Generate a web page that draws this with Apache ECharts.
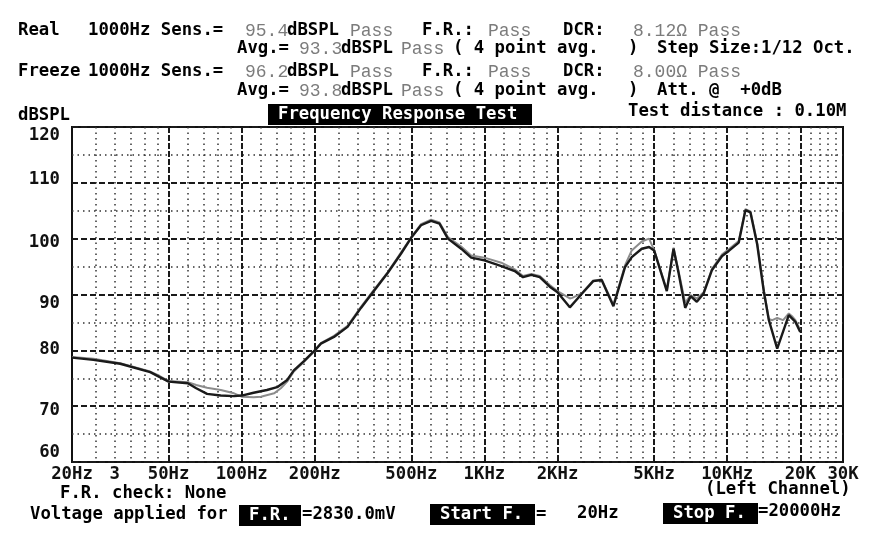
<!DOCTYPE html>
<html>
<head>
<meta charset="utf-8">
<script src="https://cdn.jsdelivr.net/npm/echarts@6/dist/echarts.min.js"></script>
<style>
html,body{margin:0;padding:0;background:#fff;}
#c{width:880px;height:550px;}
</style>
</head>
<body>
<div id="c"></div>
<script>
// ---- data ----
const freqTicks = [20, 30, 50, 100, 200, 500, 1000, 2000, 5000, 10000, 20000, 30000];
const freqTickLabels = ['20Hz', '3', '50Hz', '100Hz', '200Hz', '500Hz', '1KHz', '2KHz', '5KHz', '10KHz', '20K', '30K'];
const majorFreqLines = [50, 100, 200, 500, 1000, 2000, 5000, 10000, 20000];
const minorFreqLines = [25, 30, 35, 40, 45, 60, 70, 80, 90, 120, 140, 160, 180, 250, 300, 350, 400, 450,
  600, 700, 800, 900, 1200, 1400, 1600, 1800, 2500, 3000, 3500, 4000, 4500, 6000, 7000, 8000, 9000,
  12000, 14000, 16000, 18000, 22000, 24000, 26000, 28000];

const realFreq = [20, 24.5, 31.6, 42, 46, 50, 60, 65, 72, 82, 93, 100, 112, 127, 140, 154, 164, 181, 200, 212, 240, 273, 310, 346, 400, 453, 500, 548, 603, 653, 707, 802, 882, 1000, 1174, 1333, 1442, 1562, 1690, 1859, 2000, 2248, 2514, 2807, 3040, 3399, 3794, 4044, 4447, 4766, 5000, 5640, 6013, 6303, 6715, 7066, 7500, 8000, 8660, 9530, 10150, 11160, 11890, 12470, 13290, 14160, 14850, 16070, 17940, 19100, 20000];
const realDb = [78.7, 78.3, 77.6, 76.1, 75.2, 74.4, 74.1, 73.2, 72.2, 71.9, 71.8, 71.9, 72.4, 72.9, 73.4, 74.7, 76.4, 78.1, 80.0, 81.2, 82.4, 84.2, 87.6, 90.3, 93.9, 97.3, 100.2, 102.4, 103.2, 102.7, 100.0, 98.2, 96.6, 96.1, 95.1, 94.2, 93.1, 93.5, 93.1, 91.4, 90.4, 87.7, 90.1, 92.4, 92.6, 87.9, 94.9, 96.7, 98.2, 98.5, 97.9, 90.6, 98.2, 93.9, 87.6, 89.7, 88.7, 90.2, 94.4, 96.9, 97.8, 99.3, 105.1, 104.7, 99.0, 90.5, 85.4, 80.3, 86.3, 85.1, 83.3];

const freezeFreq = [20, 24.5, 31.6, 42, 46, 50, 60, 65, 72, 82, 93, 100, 112, 120, 136, 145, 154, 164, 181, 200, 212, 240, 273, 310, 346, 400, 453, 500, 548, 603, 653, 707, 802, 882, 1000, 1174, 1333, 1442, 1562, 1690, 1859, 2000, 2248, 2300, 2514, 2807, 3040, 3399, 3794, 4044, 4447, 4766, 5000, 5640, 6013, 6303, 6715, 7066, 7500, 8000, 8660, 9530, 10150, 11160, 11890, 12470, 13290, 14160, 14850, 15340, 16070, 17000, 17940, 18600, 19100, 20000];
const freezeDb = [78.8, 78.5, 77.7, 76.2, 75.4, 74.5, 74.3, 73.8, 73.3, 72.9, 72.3, 71.7, 71.6, 71.7, 72.3, 73.2, 74.4, 76.2, 78.0, 79.9, 81.3, 82.6, 84.4, 87.8, 90.5, 94.0, 97.5, 100.3, 102.6, 103.4, 102.9, 100.3, 98.6, 97.0, 96.6, 95.7, 94.5, 93.3, 93.7, 93.3, 91.7, 90.6, 89.3, 89.4, 90.2, 92.5, 92.7, 88.2, 95.2, 97.9, 99.5, 100.0, 98.0, 90.8, 98.4, 94.2, 88.5, 89.9, 89.3, 90.4, 94.6, 97.2, 98.1, 99.6, 105.3, 104.9, 99.3, 90.8, 85.6, 85.4, 85.8, 85.4, 86.6, 86.0, 85.4, 83.6];

const dbMin = 60, dbMax = 120, dbStep = 10;
const freqMin = 20, freqMax = 30000;

// ---- styling (not data) ----
const BOLD = 'bold 17.3px "DejaVu Sans Mono"';
const THIN = '18px "Liberation Mono"';
const GRAY = '#7c7c7c';
// vertical nudges of the y tick labels (the original prints them on a text grid)
const yLabelNudge = { 120: 9, 110: -3, 100: 4, 90: 9, 80: -1, 70: 4, 60: -9 };

function pair(f, d) { return f.map((v, i) => [v, d[i]]); }
function labelFor(v) {
  for (let i = 0; i < freqTicks.length; i++) {
    if (Math.abs(Math.log10(v) - Math.log10(freqTicks[i])) < 0.005) return freqTickLabels[i];
  }
  return '';
}
const yRich = {};
Object.keys(yLabelNudge).forEach(function (k) {
  const o = yLabelNudge[k];
  yRich['n' + k] = {
    fontFamily: 'DejaVu Sans Mono', fontWeight: 'bold', fontSize: 17.3, color: '#111',
    padding: o >= 0 ? [2 * o, 0, 0, 0] : [0, 0, -2 * o, 0]
  };
});
function yLabel(v) {
  const k = Math.round(v);
  return yLabelNudge[k] !== undefined ? '{n' + k + '|' + k + '}' : String(k);
}

function t(text, x, y, font, fill) {
  return { type: 'text', x: x, y: y, silent: true, z: 100,
    style: { text: text, font: font, fill: fill, textVerticalAlign: 'middle' } };
}
function box(x, y, w, h, text, tx) {
  return [
    { type: 'rect', shape: { x: x, y: y, width: w, height: h }, style: { fill: '#000' }, z: 99, silent: true },
    t(text, tx, y + h / 2, BOLD, '#fff')
  ];
}

const graphics = [
  t('Real', 18, 31, BOLD, '#000'),
  t('1000Hz Sens.=', 88, 31, BOLD, '#000'),
  t('95.4', 245, 31, THIN, GRAY),
  t('dBSPL', 287, 31, BOLD, '#000'),
  t('Pass', 350, 31, THIN, GRAY),
  t('F.R.:', 422, 31, BOLD, '#000'),
  t('Pass', 488, 31, THIN, GRAY),
  t('DCR:', 563, 31, BOLD, '#000'),
  t('8.12Ω Pass', 633, 31, THIN, GRAY),

  t('Avg.=', 237, 49, BOLD, '#000'),
  t('93.3', 299, 49, THIN, GRAY),
  t('dBSPL', 341, 49, BOLD, '#000'),
  t('Pass', 401, 49, THIN, GRAY),
  t('( 4 point avg.', 453, 49, BOLD, '#000'),
  t(')', 628, 49, BOLD, '#000'),
  t('Step Size:1/12 Oct.', 657, 49, BOLD, '#000'),

  t('Freeze', 18, 72, BOLD, '#000'),
  t('1000Hz Sens.=', 88, 72, BOLD, '#000'),
  t('96.2', 245, 72, THIN, GRAY),
  t('dBSPL', 287, 72, BOLD, '#000'),
  t('Pass', 350, 72, THIN, GRAY),
  t('F.R.:', 422, 72, BOLD, '#000'),
  t('Pass', 488, 72, THIN, GRAY),
  t('DCR:', 563, 72, BOLD, '#000'),
  t('8.00Ω Pass', 633, 72, THIN, GRAY),

  t('Avg.=', 237, 91, BOLD, '#000'),
  t('93.8', 299, 91, THIN, GRAY),
  t('dBSPL', 341, 91, BOLD, '#000'),
  t('Pass', 401, 91, THIN, GRAY),
  t('( 4 point avg.', 453, 91, BOLD, '#000'),
  t(')', 628, 91, BOLD, '#000'),
  t('Att. @  +0dB', 657, 91, BOLD, '#000'),

  t('dBSPL', 18, 116, BOLD, '#000'),
  ...box(268, 104, 264, 21, 'Frequency Response Test', 278),
  t('Test distance : 0.10M', 628, 112, BOLD, '#000'),

  t('F.R. check: None', 60, 494, BOLD, '#000'),
  t('(Left Channel)', 705, 490, BOLD, '#000'),
  t('Voltage applied for', 30, 515, BOLD, '#000'),
  ...box(239, 505, 62, 21, 'F.R.', 249),
  t('=2830.0mV', 302, 515, BOLD, '#000'),
  ...box(430, 504, 105, 21, 'Start F.', 440),
  t('=', 536, 515, BOLD, '#000'),
  t('20Hz', 577, 514, BOLD, '#000'),
  ...box(663, 503, 95, 21, 'Stop F.', 673),
  t('=20000Hz', 758, 512, BOLD, '#000')
];

const chart = echarts.init(document.getElementById('c'), null, { renderer: 'canvas' });
chart.setOption({
  animation: false,
  backgroundColor: '#fff',
  grid: { left: 72, top: 127, width: 771, height: 335, show: true, borderColor: '#111', borderWidth: 2, backgroundColor: 'transparent' },
  xAxis: [
    {
      type: 'log', logBase: 10, min: freqMin, max: freqMax, gridIndex: 0,
      axisLine: { show: false },
      axisTick: { show: false, customValues: majorFreqLines },
      axisLabel: { show: true, customValues: freqTicks, formatter: labelFor, margin: 4,
        color: '#111', fontFamily: 'DejaVu Sans Mono', fontWeight: 'bold', fontSize: 17.3 },
      splitLine: { show: true, lineStyle: { color: '#1a1a1a', width: 2, type: [6, 2] } }
    },
    {
      type: 'log', logBase: 10, min: freqMin, max: freqMax, gridIndex: 0,
      axisLine: { show: false },
      axisTick: { show: false, customValues: minorFreqLines },
      axisLabel: { show: false },
      splitLine: { show: true, lineStyle: { color: '#333', width: 1.5, type: [1.5, 4] } }
    }
  ],
  yAxis: {
    type: 'value', min: dbMin, max: dbMax, interval: dbStep,
    axisLine: { show: false },
    axisTick: { show: false },
    minorTick: { show: false, splitNumber: 2 },
    minorSplitLine: { show: true, lineStyle: { color: '#333', width: 1.5, type: [1.5, 4] } },
    axisLabel: { margin: 12, color: '#111', fontFamily: 'DejaVu Sans Mono', fontWeight: 'bold', fontSize: 17.3,
      formatter: yLabel, rich: yRich },
    splitLine: { show: true, lineStyle: { color: '#1a1a1a', width: 2, type: [6, 3] } }
  },
  series: [
    { name: 'Freeze', type: 'line', xAxisIndex: 0, yAxisIndex: 0, data: pair(freezeFreq, freezeDb),
      showSymbol: false, lineStyle: { color: '#8c8c8c', width: 2 }, z: 3 },
    { name: 'Real', type: 'line', xAxisIndex: 0, yAxisIndex: 0, data: pair(realFreq, realDb),
      showSymbol: false, lineStyle: { color: '#1a1a1a', width: 2.4 }, z: 4 }
  ],
  graphic: graphics
});
</script>
</body>
</html>
